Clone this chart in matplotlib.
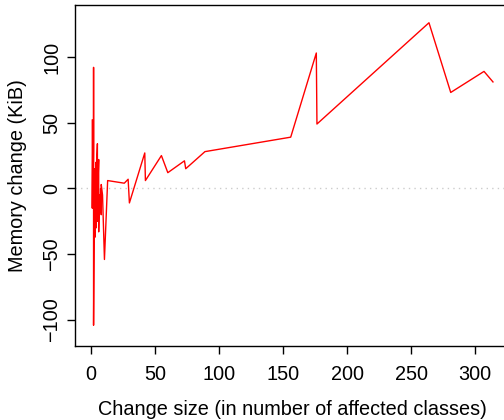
import matplotlib
matplotlib.use("Agg")
import matplotlib.pyplot as plt

plt.rcParams['font.family'] = ['Liberation Sans', 'DejaVu Sans']

# change size (classes) vs memory change (KiB), in plotting order
classes = [1, 1, 1.5, 1.5, 2, 2, 2, 2.5, 3, 3, 3, 3.5, 4, 4, 4.5, 5, 5, 5.5, 6, 6, 6.5, 7, 7.5, 8, 8, 9,
           10.5, 13, 26, 29, 30, 42, 42.5, 55, 60, 73, 74, 89,
           156, 176, 176.5, 264, 281, 307, 314]
memory = [52, -15, 50, -12, 30, 92, -104, -20, 15, -37, 10, -28, 20, -30, 21, 34, -25, 5, 22, -33, -5, -18, 0, -20, 3, -5,
          -54, 6, 4, 7, -11, 27, 6, 25, 12, 21, 15, 28,
          39, 103, 49, 126, 73, 89, 81]

xticks = [0, 50, 100, 150, 200, 250, 300]
yticks = [-100, -50, 0, 50, 100]

fig = plt.figure(figsize=(5.04, 4.2), dpi=100)
ax = fig.add_axes([75 / 504, 74 / 420, 435 / 504, 341 / 420])

ax.axhline(0, color="#cccccc", linestyle=(0, (1, 3)), linewidth=1)
ax.plot(classes, memory, color="red", linewidth=1)

ax.set_xlim(-12.5, 327.3)
ax.set_ylim(-119.8, 139.5)
ax.set_xticks(xticks)
ax.set_yticks(yticks)
ax.set_yticklabels([str(v).replace("-", "\u2212") for v in yticks], rotation=90, va="center")
ax.tick_params(direction="out", length=6, width=1, labelsize=14.3)
ax.tick_params(axis="x", pad=8)
ax.tick_params(axis="y", pad=4)

for s in ax.spines.values():
    s.set_linewidth(1)

ax.set_xlabel("Change size (in number of affected classes)", fontsize=14.3, labelpad=11)
ax.set_ylabel("Memory change (KiB)", fontsize=14.3, labelpad=11)

fig.savefig("out.png", dpi=100)
